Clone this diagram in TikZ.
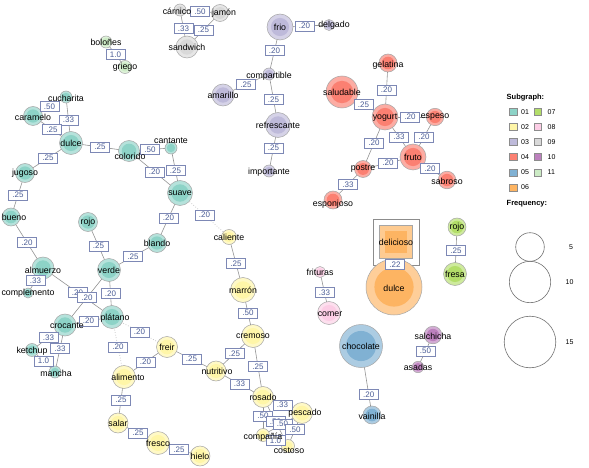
\documentclass[tikz,border=0pt]{standalone}
\usepackage{fontspec}
\setmainfont{Liberation Sans}
\usetikzlibrary{backgrounds}
\definecolor{cA}{HTML}{8DD3C7}
\definecolor{cB}{HTML}{FFF6A8}
\definecolor{cC}{HTML}{BEBADA}
\definecolor{cD}{HTML}{FB8072}
\definecolor{cE}{HTML}{80B1D3}
\definecolor{cF}{HTML}{FDB462}
\definecolor{cG}{HTML}{B3DE69}
\definecolor{cH}{HTML}{FCCDE5}
\definecolor{cI}{HTML}{D9D9D9}
\definecolor{cJ}{HTML}{BC80BD}
\definecolor{cK}{HTML}{CCEBC5}
\definecolor{elabtext}{HTML}{4B5D96}
\definecolor{elabdraw}{HTML}{7D88B5}
\newcommand\Ed[5]{%
  \begin{pgfonlayer}{background}\draw[edgeln,#5] (#1.center) -- (#2.center);\end{pgfonlayer}%
  \path (#1.center) -- (#2.center) node[elab,pos=#4] (e-#1-#2) {#3};}
\begin{document}
\begin{tikzpicture}[x=1pt,y=-1pt,
  vtx/.style 2 args={circle,inner sep=0pt,minimum size=2*#2pt,draw=black!35,line width=0.5pt,
    fill=#1!65!white,path picture={\fill[#1] (path picture bounding box.center) circle[radius=0.7*#2pt];}},
  edgeln/.style={draw=black!42,line width=0.6pt},
  dotedge/.style={draw=black!28,dotted,line width=0.7pt},
  elab/.style={draw=elabdraw,fill=white,text=elabtext,font=\fontsize{8}{9}\selectfont,
    inner xsep=3.8pt,inner ysep=2pt,text height=5.8pt,text depth=0pt,line width=0.5pt},
  lbl/.style={font=\fontsize{8.8}{10}\selectfont,inner sep=0pt,text=black},
  sw/.style={draw=black!45,fill=#1,minimum size=7.5pt,inner sep=0pt,line width=0.5pt},
  legt/.style={font=\fontsize{7}{8}\selectfont,inner sep=0pt},
  legh/.style={font=\bfseries\fontsize{7.5}{8}\selectfont,inner sep=0pt,anchor=west},
  fcirc/.style={circle,draw=black!55,line width=0.6pt,inner sep=0pt,minimum size=#1}]
\useasboundingbox (0,0) rectangle (589,468);
\begin{pgfonlayer}{background}\fill[white] (0,0) rectangle (589,468);\end{pgfonlayer}

% ---- subgraph 11
\node[vtx={cK}{6}] (bolones) at (106,42) {};
\node[vtx={cK}{6.5}] (griego) at (125,67) {};
% ---- subgraph 09
\node[vtx={cI}{6}] (carnico) at (180,10) {};
\node[vtx={cI}{8.5}] (jamon) at (220,13) {};
\node[vtx={cI}{11}] (sandwich) at (187,47) {};
% ---- subgraph 03
\node[vtx={cC}{13}] (frio) at (280,27) {};
\node[vtx={cC}{5.5}] (delgado) at (329,25) {};
\node[vtx={cC}{6}] (compartible) at (269,74) {};
\node[vtx={cC}{11}] (amarillo) at (223,95) {};
\node[vtx={cC}{12.5}] (refrescante) at (278,125) {};
\node[vtx={cC}{6}] (importante) at (269,171) {};
% ---- subgraph 04
\node[vtx={cD}{9}] (gelatina) at (388,63) {};
\node[vtx={cD}{16}] (saludable) at (342,92) {};
\node[vtx={cD}{13}] (yogurt) at (385,117) {};
\node[vtx={cD}{8.7}] (espeso) at (435,117) {};
\node[vtx={cD}{13}] (fruto) at (413,157) {};
\node[vtx={cD}{8.5}] (postre) at (363,169) {};
\node[vtx={cD}{8.8}] (sabroso) at (447,180) {};
\node[vtx={cD}{9}] (esponjoso) at (333,200) {};
% ---- subgraph 01
\node[vtx={cA}{6}] (cucharita) at (66,97) {};
\node[vtx={cA}{9.5}] (caramelo) at (33,116) {};
\node[vtx={cA}{11.5}] (dulce) at (71,143) {};
\node[vtx={cA}{10.5}] (colorido) at (129,151) {};
\node[vtx={cA}{6}] (cantante) at (171,148) {};
\node[vtx={cA}{12.5}] (suave) at (180,193) {};
\node[vtx={cA}{9.5}] (jugoso) at (25,173) {};
\node[vtx={cA}{9}] (bueno) at (11,217) {};
\node[vtx={cA}{11}] (almuerzo) at (43,268) {};
\node[vtx={cA}{5}] (complemento) at (28,293) {};
\node[vtx={cA}{9.5}] (rojo) at (88,222) {};
\node[vtx={cA}{11.5}] (verde) at (109,270) {};
\node[vtx={cA}{9.5}] (blando) at (157,243) {};
\node[vtx={cA}{11.5}] (platano) at (112,317) {};
\node[vtx={cA}{11}] (crocante) at (65,325) {};
\node[vtx={cA}{6.5}] (ketchup) at (32,350) {};
\node[vtx={cA}{6}] (mancha) at (55,372) {};
% ---- subgraph 02
\node[vtx={cB}{7.5}] (caliente) at (229,237) {};
\node[vtx={cB}{12.5}] (marron) at (243,290) {};
\node[vtx={cB}{11.5}] (cremoso) at (253,336) {};
\node[vtx={cB}{10.5}] (freir) at (167,347) {};
\node[vtx={cB}{11.5}] (alimento) at (124,377) {};
\node[vtx={cB}{10}] (nutritivo) at (216,371) {};
\node[vtx={cB}{10}] (salar) at (118,423) {};
\node[vtx={cB}{11.5}] (fresco) at (158,443) {};
\node[vtx={cB}{10}] (hielo) at (200,456) {};
\node[vtx={cB}{10.5}] (rosado) at (263,397) {};
\node[vtx={cB}{10.5}] (pescado) at (302,413) {};
\node[vtx={cB}{6.5}] (compania) at (263,435) {};
\node[vtx={cB}{6.5}] (costoso) at (288,446) {};
% ---- subgraph 08
\node[vtx={cH}{5.5}] (frituras) at (320,272) {};
\node[vtx={cH}{11.5}] (comer) at (329,313) {};
% ---- subgraph 06
\node[draw=black!45,fill=white,minimum size=46pt,inner sep=0pt,line width=0.5pt] (deliframe) at (396,242) {};
\node[vtx={cF}{28}] (dulceB) at (394,287) {};
\node[rectangle,draw=black!35,line width=0.5pt,fill=cF!70!white,minimum size=33pt,inner sep=0pt,
  path picture={\fill[cF] ([xshift=-11pt,yshift=-11pt]path picture bounding box.center) rectangle ([xshift=11pt,yshift=11pt]path picture bounding box.center);}] (delicioso) at (396,242) {};
% ---- subgraph 07
\node[vtx={cG}{9}] (rojoB) at (457,227) {};
\node[vtx={cG}{11.5}] (fresa) at (455,274) {};
% ---- subgraph 10
\node[vtx={cJ}{8.8}] (salchicha) at (433,335) {};
\node[vtx={cJ}{5.7}] (asadas) at (418,367) {};
% ---- subgraph 05
\node[vtx={cE}{21.5}] (chocolate) at (361,346) {};
\node[vtx={cE}{9}] (vainilla) at (372,415) {};

% ---- edges
\Ed{bolones}{griego}{1.0}{0.5}{}
\Ed{carnico}{jamon}{.50}{0.5}{}
\Ed{carnico}{sandwich}{.33}{0.5}{}
\Ed{jamon}{sandwich}{.25}{0.5}{}
\Ed{frio}{delgado}{.20}{0.5}{}
\Ed{frio}{compartible}{.20}{0.5}{}
\Ed{amarillo}{compartible}{.25}{0.5}{}
\Ed{compartible}{refrescante}{.25}{0.5}{}
\Ed{refrescante}{importante}{.25}{0.5}{}
\Ed{gelatina}{yogurt}{.20}{0.5}{}
\Ed{saludable}{yogurt}{.25}{0.5}{}
\Ed{yogurt}{espeso}{.20}{0.5}{}
\Ed{yogurt}{fruto}{.33}{0.5}{}
\Ed{espeso}{fruto}{.20}{0.5}{}
\Ed{yogurt}{postre}{.20}{0.5}{}
\Ed{postre}{fruto}{.20}{0.5}{}
\Ed{fruto}{sabroso}{.20}{0.5}{}
\Ed{postre}{esponjoso}{.33}{0.5}{}
\Ed{caramelo}{cucharita}{.50}{0.5}{}
\Ed{cucharita}{dulce}{.33}{0.5}{}
\Ed{caramelo}{dulce}{.25}{0.5}{}
\Ed{dulce}{colorido}{.25}{0.5}{}
\Ed{colorido}{cantante}{.50}{0.5}{}
\Ed{cantante}{suave}{.25}{0.5}{}
\Ed{colorido}{suave}{.20}{0.5}{}
\Ed{dulce}{jugoso}{.25}{0.5}{}
\Ed{jugoso}{bueno}{.25}{0.5}{}
\Ed{bueno}{almuerzo}{.20}{0.5}{}
\Ed{almuerzo}{complemento}{.33}{0.5}{}
\Ed{rojo}{verde}{.25}{0.5}{}
\Ed{suave}{blando}{.20}{0.5}{}
\Ed{blando}{verde}{.25}{0.5}{}
\Ed{suave}{caliente}{.20}{0.5}{dotedge}
\Ed{verde}{platano}{.20}{0.5}{}
\Ed{almuerzo}{platano}{.20}{0.5}{}
\Ed{verde}{crocante}{.20}{0.5}{}
\Ed{crocante}{platano}{.20}{0.5}{}
\Ed{crocante}{ketchup}{.33}{0.5}{}
\Ed{crocante}{mancha}{.33}{0.5}{}
\Ed{ketchup}{mancha}{1.0}{0.5}{}
\Ed{platano}{alimento}{.20}{0.5}{dotedge}
\Ed{platano}{freir}{.20}{0.5}{dotedge}
\Ed{alimento}{freir}{.20}{0.5}{}
\Ed{freir}{nutritivo}{.25}{0.5}{}
\Ed{alimento}{salar}{.25}{0.5}{}
\Ed{salar}{fresco}{.25}{0.5}{}
\Ed{fresco}{hielo}{.25}{0.5}{}
\Ed{caliente}{marron}{.25}{0.5}{}
\Ed{marron}{cremoso}{.50}{0.5}{}
\Ed{cremoso}{nutritivo}{.25}{0.5}{}
\Ed{nutritivo}{rosado}{.33}{0.5}{}
\Ed{cremoso}{rosado}{.25}{0.5}{}
\Ed{rosado}{pescado}{.33}{0.5}{}
\Ed{rosado}{compania}{.50}{0.5}{}
\Ed{rosado}{costoso}{.50}{0.5}{}
\Ed{compania}{pescado}{.50}{0.5}{}
\Ed{pescado}{costoso}{.50}{0.5}{}
\Ed{compania}{costoso}{1.0}{0.5}{}
\Ed{frituras}{comer}{.33}{0.5}{}
\Ed{delicioso}{dulceB}{.22}{0.5}{}
\Ed{rojoB}{fresa}{.25}{0.5}{}
\Ed{salchicha}{asadas}{.50}{0.5}{}
\Ed{chocolate}{vainilla}{.20}{0.7}{}

% ---- node labels
\node[lbl] (t-bolones) at (bolones) {boloñes};
\node[lbl] (t-griego) at (griego) {griego};
\node[lbl,xshift=-3pt,yshift=-1pt] (t-carnico) at (carnico) {cárnico};
\node[lbl,xshift=4pt] (t-jamon) at (jamon) {jamón};
\node[lbl] (t-sandwich) at (sandwich) {sandwich};
\node[lbl] (t-frio) at (frio) {frio};
\node[lbl,xshift=5pt] (t-delgado) at (delgado) {delgado};
\node[lbl,yshift=-2pt] (t-compartible) at (compartible) {compartible};
\node[lbl] (t-amarillo) at (amarillo) {amarillo};
\node[lbl] (t-refrescante) at (refrescante) {refrescante};
\node[lbl,yshift=-1pt] (t-importante) at (importante) {importante};
\node[lbl,yshift=-2pt] (t-gelatina) at (gelatina) {gelatina};
\node[lbl] (t-saludable) at (saludable) {saludable};
\node[lbl,yshift=-1pt] (t-yogurt) at (yogurt) {yogurt};
\node[lbl] (t-espeso) at (espeso) {espeso};
\node[lbl] (t-fruto) at (fruto) {fruto};
\node[lbl] (t-postre) at (postre) {postre};
\node[lbl,yshift=-1pt] (t-sabroso) at (sabroso) {sabroso};
\node[lbl,yshift=-4pt] (t-esponjoso) at (esponjoso) {esponjoso};
\node[lbl,yshift=-1pt] (t-cucharita) at (cucharita) {cucharita};
\node[lbl,yshift=-1pt] (t-caramelo) at (caramelo) {caramelo};
\node[lbl] (t-dulce) at (dulce) {dulce};
\node[lbl,xshift=1pt,yshift=-5pt] (t-colorido) at (colorido) {colorido};
\node[lbl,yshift=7pt] (t-cantante) at (cantante) {cantante};
\node[lbl] (t-suave) at (suave) {suave};
\node[lbl] (t-jugoso) at (jugoso) {jugoso};
\node[lbl,xshift=3pt] (t-bueno) at (bueno) {bueno};
\node[lbl,yshift=-2pt] (t-almuerzo) at (almuerzo) {almuerzo};
\node[lbl] (t-complemento) at (complemento) {complemento};
\node[lbl] (t-rojo) at (rojo) {rojo};
\node[lbl] (t-verde) at (verde) {verde};
\node[lbl] (t-blando) at (blando) {blando};
\node[lbl,xshift=3pt,yshift=-1pt] (t-platano) at (platano) {plátano};
\node[lbl,xshift=2pt,yshift=-1pt] (t-crocante) at (crocante) {crocante};
\node[lbl,yshift=-1pt] (t-ketchup) at (ketchup) {ketchup};
\node[lbl,xshift=1pt,yshift=-1pt] (t-mancha) at (mancha) {mancha};
\node[lbl] (t-caliente) at (caliente) {caliente};
\node[lbl] (t-marron) at (marron) {marrón};
\node[lbl] (t-cremoso) at (cremoso) {cremoso};
\node[lbl] (t-freir) at (freir) {freir};
\node[lbl,xshift=4pt] (t-alimento) at (alimento) {alimento};
\node[lbl,xshift=1pt] (t-nutritivo) at (nutritivo) {nutritivo};
\node[lbl] (t-salar) at (salar) {salar};
\node[lbl] (t-fresco) at (fresco) {fresco};
\node[lbl] (t-hielo) at (hielo) {hielo};
\node[lbl] (t-rosado) at (rosado) {rosado};
\node[lbl,xshift=3pt] (t-pescado) at (pescado) {pescado};
\node[lbl,yshift=-2pt] (t-compania) at (compania) {compañía};
\node[lbl,xshift=1pt,yshift=-5pt] (t-costoso) at (costoso) {costoso};
\node[lbl] (t-frituras) at (frituras) {frituras};
\node[lbl,xshift=1pt,yshift=-1pt] (t-comer) at (comer) {comer};
\node[lbl] (t-delicioso) at (delicioso) {delicioso};
\node[lbl,yshift=-1pt] (t-dulceB) at (dulceB) {dulce};
\node[lbl] (t-rojoB) at (rojoB) {rojo};
\node[lbl] (t-fresa) at (fresa) {fresa};
\node[lbl,yshift=-1pt] (t-salchicha) at (salchicha) {salchicha};
\node[lbl] (t-asadas) at (asadas) {asadas};
\node[lbl] (t-chocolate) at (chocolate) {chocolate};
\node[lbl,yshift=-1pt] (t-vainilla) at (vainilla) {vainilla};

% ---- legend
\node[legh] (leg-sub) at (506.5,98) {Subgraph:};
\node[sw=cA] (sw01) at (513,112) {}; \node[legt,anchor=west] (lt01) at (521,112) {01};
\node[sw=cB] (sw02) at (513,127) {}; \node[legt,anchor=west] (lt02) at (521,127) {02};
\node[sw=cC] (sw03) at (513,142) {}; \node[legt,anchor=west] (lt03) at (521,142) {03};
\node[sw=cD] (sw04) at (513,157) {}; \node[legt,anchor=west] (lt04) at (521,157) {04};
\node[sw=cE] (sw05) at (513,172.5) {}; \node[legt,anchor=west] (lt05) at (521,172.5) {05};
\node[sw=cF] (sw06) at (513,187.5) {}; \node[legt,anchor=west] (lt06) at (521,187.5) {06};
\node[sw=cG] (sw07) at (537.7,112) {}; \node[legt,anchor=west] (lt07) at (547.5,112) {07};
\node[sw=cH] (sw08) at (537.7,127) {}; \node[legt,anchor=west] (lt08) at (547.5,127) {08};
\node[sw=cI] (sw09) at (537.7,142) {}; \node[legt,anchor=west] (lt09) at (547.5,142) {09};
\node[sw=cJ] (sw10) at (537.7,157) {}; \node[legt,anchor=west] (lt10) at (547.5,157) {10};
\node[sw=cK] (sw11) at (537.7,172.5) {}; \node[legt,anchor=west] (lt11) at (547.5,172.5) {11};
\node[legh] (leg-freq) at (506.5,204) {Frequency:};
\node[fcirc=28.6pt] (f5) at (530,247) {}; \node[legt] (f5t) at (571,247) {5};
\node[fcirc=41.4pt] (f10) at (530,282) {}; \node[legt] (f10t) at (569.5,282) {10};
\node[fcirc=51.6pt] (f15) at (530,342) {}; \node[legt] (f15t) at (569.5,342) {15};
\end{tikzpicture}
\end{document}
